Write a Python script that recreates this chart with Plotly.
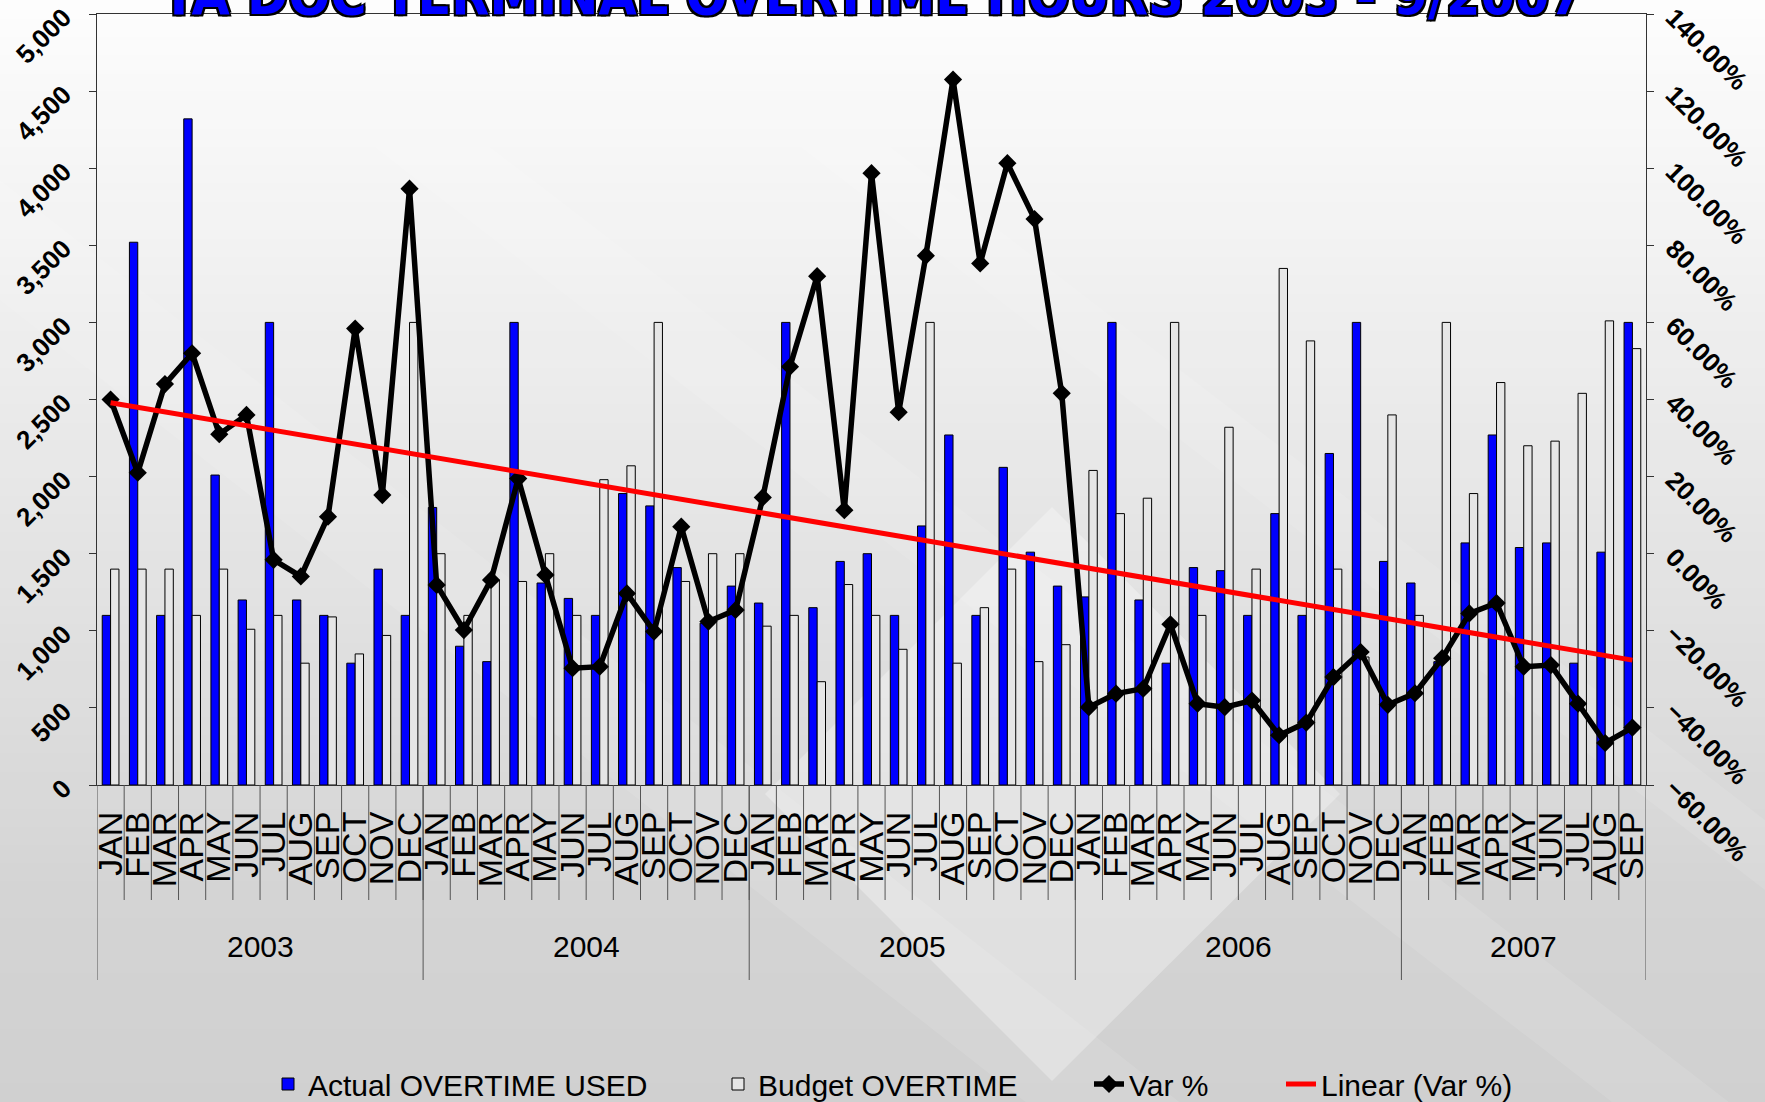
import numpy as np
import plotly.graph_objects as go

# ---------------- data ----------------
years = ["2003", "2004", "2005", "2006", "2007"]
months_per_year = [12, 12, 12, 12, 9]
month_names = ["JAN", "FEB", "MAR", "APR", "MAY", "JUN",
               "JUL", "AUG", "SEP", "OCT", "NOV", "DEC"]

actual_overtime = [
    1100, 3520, 1100, 4320, 2010, 1200, 3000, 1200, 1100, 790, 1400, 1100,   # 2003
    1800, 900, 800, 3000, 1310, 1210, 1100, 1890, 1810, 1410, 1050, 1290,    # 2004
    1180, 3000, 1150, 1450, 1500, 1100, 1680, 2270, 1100, 2060, 1510, 1290,  # 2005
    1220, 3000, 1200, 790, 1410, 1390, 1100, 1760, 1100, 2150, 3000, 1450,   # 2006
    1310, 800, 1570, 2270, 1540, 1570, 790, 1510, 3000,                      # 2007
]
budget_overtime = [
    1400, 1400, 1400, 1100, 1400, 1010, 1100, 790, 1090, 850, 970, 3000,
    1500, 1100, 1330, 1320, 1500, 1100, 1980, 2070, 3000, 1320, 1500, 1500,
    1030, 1100, 670, 1300, 1100, 880, 3000, 790, 1150, 1400, 800, 910,
    2040, 1760, 1860, 3000, 1100, 2320, 1400, 3350, 2880, 1400, 830, 2400,
    1100, 3000, 1890, 2610, 2200, 2230, 2540, 3010, 2830,
]
var_pct = [
    40, 21, 44, 52, 31, 36, -1.6, -5.9, 9.6, 58.4, 15.2, 94.7,
    -8.1, -19.8, -6.8, 19.5, -5.5, -29.7, -29.3, -10.3, -20.2, 7, -17.6, -14.6,
    14.6, 48.5, 72, 11.3, 98.7, 36.7, 77.3, 123, 75.3, 101.3, 86.8, 41.6,
    -39.8, -36.3, -35, -18.3, -38.9, -39.8, -38.1, -47.1, -43.8, -32, -25.5, -39.2,
    -36.2, -27.1, -15.5, -12.8, -29.3, -28.9, -38.9, -49.1, -45.1,
]

title_text = "YA DOC TERMINAL OVERTIME HOURS 2003 - 9/2007"

# ---------------- derived ----------------
cat_keys, month_labels = [], []
for y, n in zip(years, months_per_year):
    for m in month_names[:n]:
        cat_keys.append(f"{m} {y}")
        month_labels.append(m)
n_cat = len(cat_keys)
idx = np.arange(n_cat)
slope, intercept = np.polyfit(idx, np.array(var_pct, dtype=float), 1)
trend = (slope * idx + intercept).tolist()

W, H = 1765, 1102
ML, MR, MT, MB = 97, 119, 14, 317
PW, PH = W - ML - MR, H - MT - MB
AXIS_PX = H - MB  # pixel row of x axis


def py(p):  # page pixel row -> paper y
    return (AXIS_PX - p) / PH


def px(p):  # page pixel column -> paper x
    return (p - ML) / PW


FONT = "Liberation Sans, Arial, sans-serif"

fig = go.Figure()
fig.add_trace(go.Bar(
    x=cat_keys, y=actual_overtime, name="Actual OVERTIME USED", legend="legend",
    marker=dict(color="#0000FF", line=dict(color="#000000", width=1)),
))
fig.add_trace(go.Bar(
    x=cat_keys, y=budget_overtime, name="Budget OVERTIME", legend="legend2",
    marker=dict(color="#E6E6E6", line=dict(color="#000000", width=1)),
))
fig.add_trace(go.Scatter(
    x=cat_keys, y=var_pct, name="Var %", yaxis="y2", mode="lines+markers",
    legend="legend3",
    line=dict(color="#000000", width=5.5),
    marker=dict(symbol="diamond", size=14, color="#000000"),
))
fig.add_trace(go.Scatter(
    x=cat_keys, y=trend, name="Linear (Var %)", yaxis="y2", mode="lines",
    legend="legend4",
    line=dict(color="#FF0000", width=5),
))

# ---------------- background (slide gradient) ----------------
shapes = []
n_strips = 60
for k in range(n_strips):
    p0 = H * k / n_strips
    p1 = H * (k + 1) / n_strips + 1
    pm = (p0 + p1) / 2
    g = 253 - 41 * min(pm, 900) / 900 - 4 * max(pm - 900, 0) / 200
    g = int(round(g))
    shapes.append(dict(type="rect", xref="paper", yref="paper",
                       x0=px(-5), x1=px(W + 5), y0=py(p1), y1=py(p0),
                       fillcolor=f"rgb({g},{g},{g})", line=dict(width=0),
                       layer="below"))
# lighter diagonal bands
bands = [((0, 180), (1765, 1560), 120), ((300, 0), (1765, 1130), 90),
         ((700, 0), (1765, 820), 70)]
for (x0, y0), (x1, y1), wdt in bands:
    path = (f"M {px(x0)},{py(y0)} L {px(x1)},{py(y1)} "
            f"L {px(x1)},{py(y1 + wdt)} L {px(x0)},{py(y0 + wdt)} Z")
    shapes.append(dict(type="path", xref="paper", yref="paper", path=path,
                       fillcolor="rgba(255,255,255,0.10)", line=dict(width=0),
                       layer="below"))
# light diamond
dia = [(1052, 1081), (1340, 794), (1052, 507), (765, 794)]
path = "M " + " L ".join(f"{px(a)},{py(b)}" for a, b in dia) + " Z"
shapes.append(dict(type="path", xref="paper", yref="paper", path=path,
                   fillcolor="rgba(255,255,255,0.30)", line=dict(width=0),
                   layer="below"))

# month separators and year dividers
for i in range(1, n_cat):
    shapes.append(dict(type="line", xref="x", yref="paper",
                       x0=i - 0.5, x1=i - 0.5, y0=0, y1=py(900),
                       line=dict(color="#555555", width=1)))
bounds = [-0.5]
start = 0
for n in months_per_year:
    start += n
    bounds.append(start - 0.5)
for b in bounds:
    shapes.append(dict(type="line", xref="x", yref="paper",
                       x0=b, x1=b, y0=0, y1=py(980),
                       line=dict(color="#555555", width=1)))

annotations = []
start = 0
for y, n in zip(years, months_per_year):
    center = start + (n - 1) / 2
    annotations.append(dict(x=center, xref="x", y=py(947), yref="paper",
                            text=y, showarrow=False, yanchor="middle",
                            font=dict(family=FONT, size=30, color="#000000")))
    start += n

annotations.append(dict(
    x=0.5, xref="paper", y=py(29), yref="paper", yanchor="bottom",
    text=title_text, showarrow=False,
    font=dict(family="DejaVu Sans Condensed, Liberation Sans Narrow, sans-serif",
              size=55, color="#0000FF", weight=900,
              shadow="2px 2px 0 #000, -2px -2px 0 #000, 2px -2px 0 #000, -2px 2px 0 #000"),
))

legend_common = dict(orientation="h", xref="container", yref="container",
                     y=(H - 1084) / H, yanchor="middle", xanchor="left",
                     font=dict(family=FONT, size=30, color="#000000"),
                     bgcolor="rgba(0,0,0,0)")

fig.update_layout(
    width=W, height=H,
    margin=dict(l=ML, r=MR, t=MT, b=MB, autoexpand=False),
    paper_bgcolor="#e8e8e8",
    plot_bgcolor="rgba(0,0,0,0)",
    barmode="group", bargap=0.385, bargroupgap=0,
    showlegend=True,
    legend=dict(legend_common, x=268 / W),
    legend2=dict(legend_common, x=718 / W),
    legend3=dict(legend_common, x=1089 / W),
    legend4=dict(legend_common, x=1281 / W),
    xaxis=dict(type="category", categoryorder="array", categoryarray=cat_keys,
               tickmode="array", tickvals=cat_keys, ticktext=month_labels,
               tickangle=-90, ticks="", ticklabelstandoff=12, automargin=False,
               tickfont=dict(family=FONT, size=34, color="#000000"),
               range=[-0.5, n_cat - 0.5], showline=True, linecolor="#333333",
               linewidth=1, mirror=True, showgrid=False),
    yaxis=dict(range=[0, 5000], dtick=500, tickformat=",", tickangle=-45,
               tickfont=dict(family=FONT, size=26, color="#000000", weight="bold"),
               ticks="outside", ticklen=7, tickcolor="#333333", automargin=False,
               showline=True, linecolor="#333333", linewidth=1, showgrid=False,
               zeroline=False, ticklabelstandoff=20),
    yaxis2=dict(range=[-60, 140], dtick=20, tickformat=".2f", ticksuffix="%",
                overlaying="y", side="right", tickangle=45, automargin=False,
                tickfont=dict(family=FONT, size=26, color="#000000", weight="bold"),
                ticks="outside", ticklen=7, tickcolor="#333333",
                showline=True, linecolor="#333333", linewidth=1, showgrid=False,
                zeroline=False, ticklabelstandoff=14),
    shapes=shapes,
    annotations=annotations,
)

fig.write_html("out.html",
               config={"displayModeBar": False},
               post_script="document.body.style.margin='0';"
                           "document.body.style.overflow='hidden';")
